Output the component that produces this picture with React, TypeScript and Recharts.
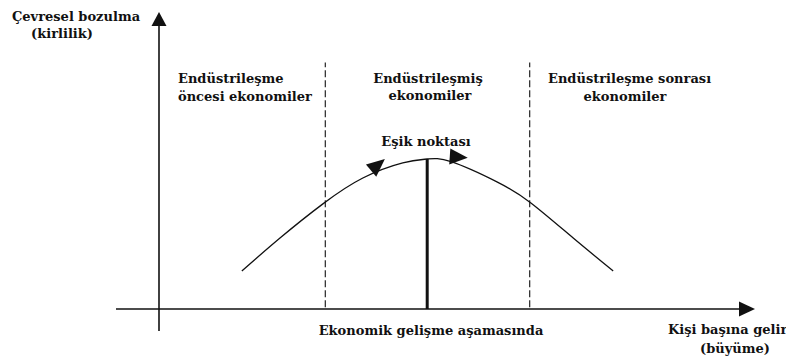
import React from 'react';
import { ComposedChart, Line, XAxis, YAxis, ReferenceLine, ReferenceDot } from 'recharts';

// ---- data (income = kişi başına gelir, pollution = çevresel bozulma) ----
const income = [13.9, 20.3, 27.5, 34.2, 40.9, 45.0, 49.0, 56.7, 62.4, 69.5, 76.2];
const pollution = [12.8, 23.9, 35.4, 44.1, 49.2, 50.5, 49.6, 42.8, 35.7, 23.9, 12.8];
const stageBounds = [27.9, 62.2];
const stageTop = 83;
const threshold = { income: 45.0, pollution: 50.5 };
const flowArrows = [
  { income: 37.9, pollution: 50.5, angle: -40 },
  { income: 51.8, pollution: 50.9, angle: 4 },
];
const texts = [
  'Çevresel bozulma',
  '(kirlilik)',
  'Endüstrileşme',
  'öncesi ekonomiler',
  'Endüstrileşmiş',
  'ekonomiler',
  'Endüstrileşme sonrası',
  'ekonomiler',
  'Eşik noktası',
  'Ekonomik gelişme aşamasında',
  'Kişi başına gelir',
  '(büyüme)',
];

// ---- layout ----
const W = 786;
const H = 358;
const PX0 = 159; // pixel of income 0
const PY0 = 309; // pixel of pollution 0
const SX = 5.96; // px per income unit
const SY = 2.97; // px per pollution unit
const toX = (px: number) => (px - PX0) / SX;
const toY = (py: number) => (PY0 - py) / SY;

const textLayout: { px: number; py: number; anchor: 'start' | 'middle' | 'end' }[] = [
  { px: 12, py: 21, anchor: 'start' },
  { px: 62, py: 38, anchor: 'middle' },
  { px: 178, py: 83, anchor: 'start' },
  { px: 178, py: 101, anchor: 'start' },
  { px: 428, py: 83, anchor: 'middle' },
  { px: 430, py: 100, anchor: 'middle' },
  { px: 548, py: 83, anchor: 'start' },
  { px: 625, py: 101, anchor: 'middle' },
  { px: 426, py: 146, anchor: 'middle' },
  { px: 431, py: 335, anchor: 'middle' },
  { px: 668, py: 334, anchor: 'start' },
  { px: 735, py: 353, anchor: 'middle' },
];

const FONT = '"DejaVu Serif", "Liberation Serif", serif';
const INK = '#111';

const chartData = income.map((x, i) => ({ x, y: pollution[i] }));

const triangle = (angle: number, len: number, half: number) => (props: any) => {
  const { cx, cy } = props;
  if (cx == null || cy == null) return null;
  const a = (angle * Math.PI) / 180;
  const c = Math.cos(a);
  const s = Math.sin(a);
  const pt = (u: number, v: number) => `${cx + u * c - v * s},${cy + u * s + v * c}`;
  return <polygon points={`${pt(0, 0)} ${pt(-len, -half)} ${pt(-len, half)}`} fill={INK} stroke="none" />;
};

const textShape = (label: string, anchor: string) => (props: any) => {
  const { cx, cy } = props;
  if (cx == null || cy == null) return null;
  return (
    <text x={cx} y={cy} textAnchor={anchor} fontFamily={FONT} fontWeight="bold" fontSize={13} fill={INK}>
      {label}
    </text>
  );
};

export default function App() {
  return (
    <div style={{ position: 'absolute', left: 0, top: 0, width: W, height: H, background: '#fff' }}>
      <ComposedChart width={W} height={H} data={chartData} margin={{ top: 0, right: 0, bottom: 0, left: 0 }}>
        <XAxis dataKey="x" type="number" hide domain={[toX(0), toX(W)]} allowDataOverflow />
        <YAxis type="number" hide domain={[toY(H), toY(0)]} allowDataOverflow />

        {/* axes */}
        <ReferenceLine
          segment={[{ x: toX(116), y: 0 }, { x: toX(742), y: 0 }]}
          stroke={INK}
          strokeWidth={1.6}
          ifOverflow="visible"
        />
        <ReferenceLine
          segment={[{ x: 0, y: toY(331) }, { x: 0, y: toY(24) }]}
          stroke={INK}
          strokeWidth={1.6}
          ifOverflow="visible"
        />
        <ReferenceDot x={toX(755)} y={0} r={0} ifOverflow="visible" shape={triangle(0, 16, 7.5)} />
        <ReferenceDot x={0} y={toY(12)} r={0} ifOverflow="visible" shape={triangle(-90, 14, 7.5)} />

        {/* stage boundaries */}
        {stageBounds.map((b, i) => (
          <ReferenceLine
            key={i}
            segment={[{ x: b, y: 0.6 }, { x: b, y: stageTop }]}
            stroke={INK}
            strokeWidth={1.1}
            strokeDasharray="7 3"
            ifOverflow="visible"
          />
        ))}

        {/* threshold */}
        <ReferenceLine
          segment={[{ x: threshold.income, y: 0 }, { x: threshold.income, y: threshold.pollution }]}
          stroke={INK}
          strokeWidth={3}
          ifOverflow="visible"
        />

        <Line
          type="natural"
          dataKey="y"
          stroke={INK}
          strokeWidth={1.3}
          dot={false}
          activeDot={false}
          isAnimationActive={false}
        />

        {flowArrows.map((a, i) => (
          <ReferenceDot
            key={'fa' + i}
            x={a.income}
            y={a.pollution}
            r={0}
            ifOverflow="visible"
            shape={triangle(a.angle, 18, 8)}
          />
        ))}

        {texts.map((t, i) => (
          <ReferenceDot
            key={'t' + i}
            x={toX(textLayout[i].px)}
            y={toY(textLayout[i].py)}
            r={0}
            ifOverflow="visible"
            shape={textShape(t, textLayout[i].anchor)}
          />
        ))}
      </ComposedChart>
    </div>
  );
}
